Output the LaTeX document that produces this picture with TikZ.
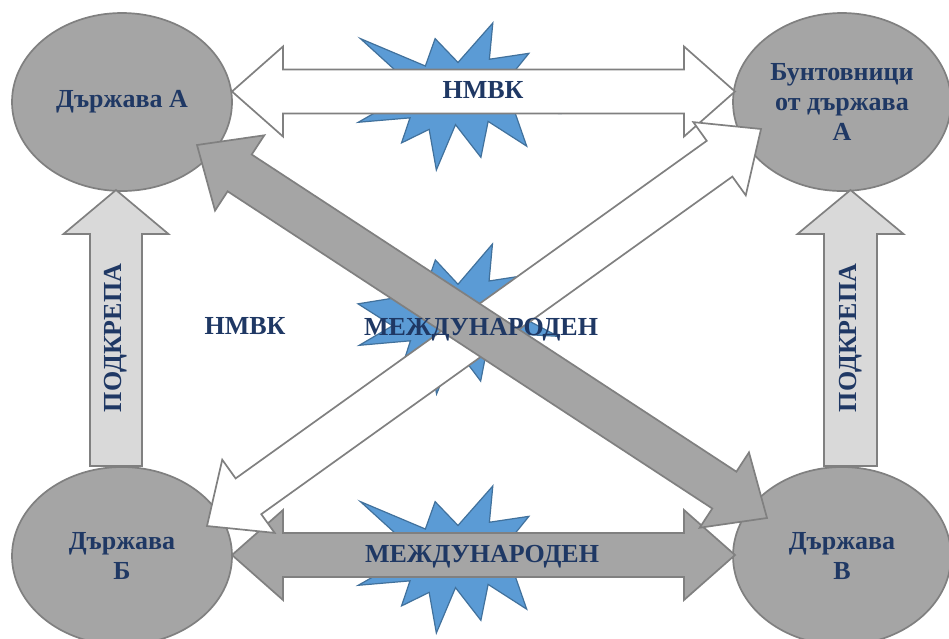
\documentclass[tikz,border=0pt]{standalone}
\usepackage{fontspec}
\setmainfont{Liberation Serif}
\usetikzlibrary{shapes.geometric,calc}
\definecolor{txtblue}{RGB}{31,56,100}
\definecolor{ellfill}{RGB}{165,165,165}
\definecolor{edgegray}{RGB}{128,128,128}
\definecolor{lightfill}{RGB}{217,217,217}
\definecolor{starfill}{RGB}{91,155,213}
\definecolor{stardraw}{RGB}{65,113,156}
\newcommand\lblfont{\fontsize{26pt}{30pt}\selectfont\bfseries}
% double block arrow: style, name, from, to
\newcommand\dblarrow[4]{%
  \coordinate (#2-h1) at ($(#3)!51pt!(#4)$);
  \coordinate (#2-h2) at ($(#4)!51pt!(#3)$);
  \draw[#1] (#3) -- ($(#2-h1)!45pt!90:(#4)$) -- ($(#2-h1)!22pt!90:(#4)$)
    -- ($(#2-h2)!22pt!-90:(#3)$) -- ($(#2-h2)!45pt!-90:(#3)$) -- (#4)
    -- ($(#2-h2)!45pt!90:(#3)$) -- ($(#2-h2)!22pt!90:(#3)$)
    -- ($(#2-h1)!22pt!-90:(#4)$) -- ($(#2-h1)!45pt!-90:(#4)$) -- cycle;}
% single block arrow: style, name, from, to, shaft half, head half, head length
\newcommand\sglarrow[7]{%
  \coordinate (#2-h) at ($(#4)!#7!(#3)$);
  \draw[#1] ($(#3)!#5!90:(#4)$) -- ($(#2-h)!#5!-90:(#3)$) -- ($(#2-h)!#6!-90:(#3)$)
    -- (#4) -- ($(#2-h)!#6!90:(#3)$) -- ($(#2-h)!#5!90:(#3)$)
    -- ($(#3)!#5!-90:(#4)$) -- cycle;}
% explosion shape: x0, y0, w-scale, h-scale (shape is 100 x 100)
\newcommand\explosion[4]{%
  \begin{scope}[shift={(#1,#2)},xscale=#3,yscale=#4]
  \draw[starstyle] (50,26.85) -- (67.23,0) -- (65.53,24.65) -- (85.09,20.63)
    -- (77.32,33.87) -- (97.67,37.67) -- (81.51,48.50) -- (100,61.53)
    -- (77.95,59.92) -- (84.00,83.77) -- (64.91,66.93) -- (61.33,91.38)
    -- (48.76,69.14) -- (39.28,100) -- (35.72,72.35) -- (22.05,81.56)
    -- (26.24,64.52) -- (0.625,67.53) -- (17.23,54.51) -- (0,39.88)
    -- (21.42,35.26) -- (1.71,10.63) -- (33.85,29.26) -- (38.67,10.63) -- cycle;
  \end{scope}}
\begin{document}
\begin{tikzpicture}[x=1pt,y=-1pt,
  starstyle/.style={fill=starfill,draw=stardraw,line width=1.2pt,line join=miter},
  ell/.style={ellipse,draw=edgegray,fill=ellfill,line width=1.7pt,inner sep=0pt,
    minimum width=220pt,minimum height=178pt,align=center,text=txtblue,font=\lblfont},
  whitearrow/.style={draw=edgegray,fill=white,line width=1.7pt,line join=miter},
  grayarrow/.style={draw=edgegray,fill=ellfill,line width=1.7pt,line join=miter},
  lightarrow/.style={draw=edgegray,fill=lightfill,line width=1.7pt,line join=miter},
  lbl/.style={text=txtblue,font=\lblfont,inner sep=0pt}]
\fill[white] (0,0) rectangle (949,638);
\useasboundingbox (0,0) rectangle (949,638);
% explosions
\explosion{357}{23}{2.02}{1.47}
\explosion{358}{244}{2.00}{1.50}
\explosion{357}{486}{2.02}{1.47}
% states
\node[ell] (A) at (122,102) {Държава А};
\node[ell,minimum width=218pt] (R) at (842,102) {Бунтовници\\от държава\\А};
\node[ell] (B) at (122,556) {Държава\\Б};
\node[ell,minimum width=218pt] (V) at (842,556) {Държава\\В};
% arrow end points
\coordinate (tAr) at (232,91.5);
\coordinate (tRl) at (735,91.5);
\coordinate (tBr) at (232,555);
\coordinate (tVl) at (735,555);
\coordinate (tAd) at (197,145);
\coordinate (tVd) at (767,518);
\coordinate (tBd) at (207,526);
\coordinate (tRd) at (761,129);
\coordinate (vLb) at (116,466);
\coordinate (vLt) at (116,190);
\coordinate (vRb) at (850.5,466);
\coordinate (vRt) at (850.5,190);
% support arrows
\sglarrow{lightarrow}{sL}{vLb}{vLt}{26pt}{52.5pt}{44pt}
\sglarrow{lightarrow}{sR}{vRb}{vRt}{26.5pt}{53pt}{44pt}
% horizontal double arrows
\dblarrow{whitearrow}{top}{tAr}{tRl}
\dblarrow{grayarrow}{bot}{tBr}{tVl}
% diagonal double arrows
\dblarrow{whitearrow}{dw}{tBd}{tRd}
\dblarrow{grayarrow}{dg}{tAd}{tVd}
% labels
\node[lbl] (l1) at (483,90) {НМВК};
\node[lbl] (l2) at (482,557) {МЕЖДУНАРОДЕН};
\node[lbl] (l3) at (481,330) {МЕЖДУНАРОДЕН};
\node[lbl] (l4) at (245,326) {НМВК};
\node[lbl,rotate=90] (l5) at (116,338) {ПОДКРЕПА};
\node[lbl,rotate=90] (l6) at (850.5,338) {ПОДКРЕПА};
\end{tikzpicture}
\end{document}
